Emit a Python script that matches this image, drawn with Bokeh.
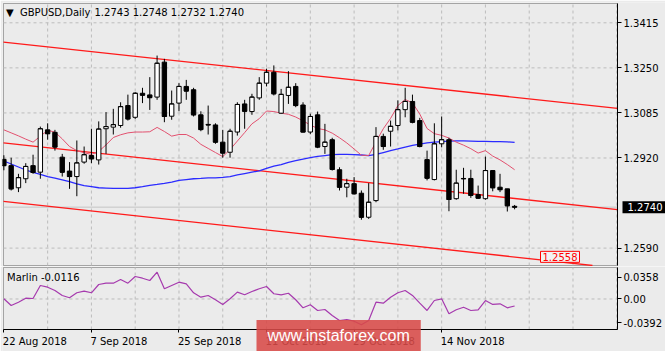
import numpy as np
from bokeh.plotting import figure
from bokeh.layouts import column
from bokeh.core.properties import value
from bokeh.models import (ColumnDataSource, Range1d, FixedTicker, Label, LinearAxis,
                          BoxAnnotation)
from bokeh.embed import file_html
from bokeh.resources import INLINE

# ---------------- data ----------------
symbol = "GBPUSD,Daily"
last_ohlc = "1.2743 1.2748 1.2732 1.2740"
last_price = 1.2740
line_label_value = 1.2558
marlin_name = "Marlin -0.0116"

opens = [1.2915, 1.2892, 1.2811, 1.2844, 1.2892, 1.2868, 1.3023, 1.3014, 1.2923, 1.2872,
         1.2852, 1.2905, 1.2929, 1.2913, 1.3027, 1.3033, 1.3039, 1.3112, 1.3069, 1.3157,
         1.3151, 1.3143, 1.3271, 1.3073, 1.3121, 1.3182, 1.3170, 1.3078, 1.3043, 1.3041,
         1.2978, 1.2941, 1.3015, 1.3118, 1.3090, 1.3140, 1.3194, 1.3234, 1.3084, 1.3149,
         1.3182, 1.3114, 1.3015, 1.3078, 1.2962, 1.2987, 1.2877, 1.2813, 1.2826, 1.2791,
         1.2703, 1.2764, 1.2999, 1.3018, 1.3039, 1.3097, 1.3127, 1.3057, 1.2914, 1.2841,
         1.2972, 1.2987, 1.2771, 1.2845, 1.2845, 1.2786, 1.2771, 1.2874, 1.2813, 1.2807,
         1.2743]
highs = [1.2930, 1.2921, 1.2862, 1.2901, 1.2932, 1.3035, 1.3047, 1.3023, 1.2935, 1.2905,
         1.2984, 1.2962, 1.3027, 1.3054, 1.3088, 1.3100, 1.3124, 1.3152, 1.3161, 1.3177,
         1.3216, 1.3295, 1.3283, 1.3167, 1.3194, 1.3206, 1.3177, 1.3091, 1.3112, 1.3047,
         1.3023, 1.3027, 1.3124, 1.3133, 1.3155, 1.3216, 1.3247, 1.3259, 1.3173, 1.3238,
         1.3194, 1.3124, 1.3082, 1.3090, 1.3045, 1.2994, 1.2886, 1.2844, 1.2850, 1.2801,
         1.2828, 1.3033, 1.3009, 1.3057, 1.3131, 1.3177, 1.3152, 1.3067, 1.2947, 1.3047,
         1.3072, 1.2994, 1.2877, 1.2884, 1.2877, 1.2819, 1.2925, 1.2874, 1.2862, 1.2807,
         1.2748]
lows = [1.2875, 1.2801, 1.2795, 1.2828, 1.2862, 1.2844, 1.2987, 1.2947, 1.2852, 1.2807,
        1.2780, 1.2899, 1.2901, 1.2896, 1.2935, 1.3006, 1.3031, 1.3057, 1.3063, 1.3121,
        1.3096, 1.3133, 1.3051, 1.3060, 1.3091, 1.3133, 1.3072, 1.3018, 1.3006, 1.2972,
        1.2921, 1.2921, 1.3002, 1.3027, 1.3078, 1.3133, 1.3182, 1.3149, 1.3082, 1.3118,
        1.3106, 1.3014, 1.3007, 1.2956, 1.2935, 1.2874, 1.2801, 1.2776, 1.2786, 1.2694,
        1.2697, 1.2758, 1.2950, 1.2962, 1.3021, 1.3069, 1.3047, 1.2959, 1.2838, 1.2838,
        1.2959, 1.2725, 1.2767, 1.2789, 1.2774, 1.2771, 1.2767, 1.2798, 1.2795, 1.2724,
        1.2732]
closes = [1.2892, 1.2807, 1.2848, 1.2889, 1.2867, 1.3027, 1.3009, 1.2960, 1.2868, 1.2852,
          1.2902, 1.2932, 1.2917, 1.3026, 1.3035, 1.3042, 1.3108, 1.3063, 1.3157, 1.3150,
          1.3141, 1.3267, 1.3072, 1.3118, 1.3182, 1.3165, 1.3078, 1.3024, 1.3041, 1.2978,
          1.2938, 1.3018, 1.3116, 1.3091, 1.3143, 1.3194, 1.3234, 1.3155, 1.3153, 1.3179,
          1.3112, 1.3015, 1.3072, 1.2960, 1.2978, 1.2878, 1.2813, 1.2826, 1.2789, 1.2703,
          1.2758, 1.2999, 1.2962, 1.3036, 1.3097, 1.3127, 1.3051, 1.2962, 1.2846, 1.2972,
          1.2987, 1.2768, 1.2828, 1.2844, 1.2783, 1.2773, 1.2874, 1.2811, 1.2804, 1.2745,
          1.2740]
ma_fast = [1.3023, 1.3012, 1.3001, 1.2989, 1.2978, 1.3000, 1.3021, 1.3015, 1.2990, 1.2962,
           1.2947, 1.2939, 1.2933, 1.2944, 1.2968, 1.2995, 1.3005, 1.3012, 1.3015, 1.3015,
           1.3016, 1.3032, 1.3017, 1.3000, 1.3006, 1.3006, 1.2993, 1.2970, 1.2955, 1.2940,
           1.2925, 1.2951, 1.2982, 1.3013, 1.3045, 1.3064, 1.3092, 1.3090, 1.3084, 1.3080,
           1.3070, 1.3056, 1.3041, 1.3028, 1.3023, 1.3011, 1.2994, 1.2975, 1.2953, 1.2930,
           1.2929, 1.2979, 1.3027, 1.3065, 1.3112, 1.3134, 1.3122, 1.3081, 1.3028, 1.3009,
           1.3003, 1.2993, 1.2978, 1.2967, 1.2954, 1.2938, 1.2947, 1.2927, 1.2913, 1.2896,
           1.2877]
ma_slow = [1.2909, 1.2898, 1.2887, 1.2876, 1.2867, 1.2860, 1.2852, 1.2846, 1.2840, 1.2833,
           1.2825, 1.2819, 1.2815, 1.2811, 1.2810, 1.2809, 1.2809, 1.2809, 1.2811, 1.2815,
           1.2820, 1.2823, 1.2827, 1.2832, 1.2838, 1.2841, 1.2844, 1.2845, 1.2847, 1.2847,
           1.2849, 1.2852, 1.2858, 1.2863, 1.2868, 1.2873, 1.2882, 1.2890, 1.2896, 1.2904,
           1.2910, 1.2916, 1.2921, 1.2926, 1.2929, 1.2932, 1.2933, 1.2933, 1.2932, 1.2931,
           1.2929, 1.2933, 1.2940, 1.2947, 1.2953, 1.2960, 1.2966, 1.2971, 1.2975, 1.2978,
           1.2980, 1.2982, 1.2983, 1.2983, 1.2982, 1.2981, 1.2981, 1.2980, 1.2980, 1.2979,
           1.2977]
marlin = [0.0003, -0.0107, -0.0053, 0.0013, 0.0008, 0.0222, 0.0194, 0.0140, 0.0058, 0.0020,
          0.0102, 0.0128, 0.0102, 0.0238, 0.0260, 0.0260, 0.0321, 0.0260, 0.0370, 0.0342,
          0.0304, 0.0441, 0.0168, 0.0222, 0.0276, 0.0250, 0.0102, 0.0030, 0.0058, -0.0013,
          -0.0090, 0.0003, 0.0112, 0.0069, 0.0123, 0.0168, 0.0206, 0.0086, 0.0069, 0.0095,
          -0.0013, -0.0145, -0.0095, -0.0189, -0.0173, -0.0271, -0.0354, -0.0337, -0.0365, -0.0424,
          -0.0354, -0.0053, -0.0069, 0.0030, 0.0102, 0.0140, 0.0058, -0.0069, -0.0189, -0.0025,
          0.0003, -0.0243, -0.0178, -0.0135, -0.0189, -0.0178, -0.0025, -0.0090, -0.0079, -0.0145,
          -0.0116]

# trend channel anchors: (bar index, price)
channel_upper = [(0, 1.3344), (84, 1.3102)]
channel_mid = [(0, 1.2975), (84, 1.2731)]
channel_low = [(0, 1.2761), (79.4, 1.2530)]

date_ticks = [0, 12, 24, 36, 48, 60]
date_labels = ["22 Aug 2018", "7 Sep 2018", "25 Sep 2018", "11 Oct 2018", "29 Oct 2018", "14 Nov 2018"]
grid_ticks = [6, 12, 18, 24, 30, 36, 42, 48, 54, 60, 66, 72, 78, 84]
price_ticks = [1.3415, 1.3250, 1.3085, 1.2920, 1.2590]
marlin_ticks = [0.0358, 0.0, -0.0392]
marlin_tick_labels = ["0.0358", "0.00", "-0.0392"]

# ---------------- styling / layout ----------------
BG = "#ebebeb"
GRID = "#bcbcbc"
FONT = "DejaVu Sans"
FS = "10px"
W = 665
# panel (visible box) extents in data units
X0, X1 = -0.05, 84.1          # panel spans pixels 3 .. 617
P0, P1 = 1.25263, 1.34857     # price panel spans pixels 3 .. 265
M0, M1 = -0.0502, 0.0518      # Marlin panel spans pixels 267 .. 329
SX = (617 - 3) / (X1 - X0)
SY = (265 - 3) / (P1 - P0)
SM = (329 - 267) / (M1 - M0)
MAIN_H, SUB_H = 266, 85


def px_x(px):
    return X0 + (px - 3) / SX


def px_main(py):
    return P1 - (py - 3) / SY


def px_sub(py):
    return M1 - (py - 267) / SM


def make_axis(ticker, loc, bounds):
    ax = LinearAxis(ticker=ticker, fixed_location=loc, bounds=bounds)
    ax.axis_line_color = "black"
    ax.major_tick_line_color = "black"
    ax.minor_tick_line_color = None
    ax.major_tick_out = 4
    ax.major_tick_in = 0
    ax.major_label_standoff = 2
    ax.major_label_text_font = FONT
    ax.major_label_text_font_size = FS
    ax.major_label_text_color = "black"
    return ax


def base_fig(height, yr):
    f = figure(width=W, height=height, x_range=xr, y_range=yr, output_backend="svg",
               toolbar_location=None, x_axis_location=None, y_axis_location=None,
               min_border_left=2, min_border_right=0, min_border_top=0, min_border_bottom=0)
    f.background_fill_color = BG
    f.border_fill_color = BG
    f.outline_line_color = None
    f.grid.visible = False
    return f


xr = Range1d(X0 - 1 / SX, X0 + (W - 3) / SX)

N = len(closes)
idx = np.arange(N)
o = np.array(opens)
c = np.array(closes)
src = ColumnDataSource(dict(
    x=idx, xl=idx - 0.3, xr=idx + 0.3,
    o=o, h=np.array(highs), l=np.array(lows), c=c,
    top=np.maximum(o, c), bot=np.minimum(o, c),
    fill=["white" if cc >= oo else "black" for oo, cc in zip(opens, closes)],
))

# ---------------- price window ----------------
p = base_fig(MAIN_H, Range1d(P1 - (MAIN_H - 3) / SY, P1 + 1 / SY))
p.min_border_top = 2
p.add_layout(BoxAnnotation(left=X0, right=X1, bottom=P0, top=P1, fill_color=None,
                           line_color="black", line_width=1, level="underlay"))
yax = make_axis(FixedTicker(ticks=price_ticks), X1, (P0, P1))
yax.major_label_overrides = {t: f"{t:.4f}" for t in price_ticks}
p.add_layout(yax, "right")

p.segment(x0=grid_ticks, y0=P0, x1=grid_ticks, y1=P1, line_color=GRID, line_dash="3 3")
p.segment(x0=X0, y0=price_ticks, x1=X1, y1=price_ticks, line_color=GRID, line_dash="3 3")
p.segment(x0=X0, y0=last_price, x1=X1, y1=last_price, line_color="#c4c4c4", line_width=1)

for (xa, ya), (xb, yb) in (channel_upper, channel_mid, channel_low):
    k = (yb - ya) / (xb - xa)
    x_end = X1
    if ya + k * (X1 - xa) < P0:
        x_end = xa + (P0 - ya) / k
    xs = np.array([X0, x_end])
    p.line(xs, ya + k * (xs - xa), line_color="#ff1a1a", line_width=1.3)

p.line(idx, ma_slow, line_color="#2b2bff", line_width=1.3)
p.line(idx, ma_fast, line_color="#e2516f", line_width=1)

p.segment(x0="x", y0="l", x1="x", y1="h", source=src, line_color="black", line_width=1)
p.vbar(x="x", width=0.6, top="top", bottom="bot", fill_color="fill",
       line_color="black", line_width=1, source=src)
p.segment(x0="xl", y0="c", x1="xr", y1="c", source=src, line_color="black", line_width=1)

yt = px_main(12)
p.add_layout(Label(x=px_x(5.5), y=yt, text="\u25bc", text_font=FONT, text_font_size="10px",
                   text_baseline="middle", text_color="black"))
p.add_layout(Label(x=px_x(19.5), y=yt, text=symbol, text_font=FONT, text_font_size=FS,
                   text_baseline="middle", text_color="black"))
p.add_layout(Label(x=px_x(94), y=yt, text=last_ohlc, text_font=FONT, text_font_size=FS,
                   text_baseline="middle", text_color="black"))
p.add_layout(Label(x=X1, y=last_price, text=f"{last_price:.4f}", text_font=FONT,
                   text_font_size=FS, text_baseline="middle", text_color="white",
                   x_offset=5, background_fill_color="black",
                   padding=dict(left=5, right=4, top=2, bottom=2)))
p.add_layout(Label(x=px_x(540), y=line_label_value, text=f"{line_label_value:.4f}",
                   text_font=FONT, text_font_size=FS, text_baseline="middle",
                   text_color="#ff0000", background_fill_color="#f2f2f2",
                   border_line_color="#ff0000", border_line_width=1,
                   padding=dict(left=2, right=2, top=2, bottom=1)))

# ---------------- Marlin sub-window ----------------
p2 = base_fig(SUB_H, Range1d(M0 - (351 - 329) / SM, M1 + 1 / SM))
p2.add_layout(BoxAnnotation(left=X0, right=X1, bottom=M0, top=M1, fill_color=None,
                            line_color="black", line_width=1, level="underlay"))
yax2 = make_axis(FixedTicker(ticks=marlin_ticks), X1, (M0, M1))
yax2.major_label_overrides = dict(zip(marlin_ticks, marlin_tick_labels))
p2.add_layout(yax2, "right")
xax = make_axis(FixedTicker(ticks=date_ticks), M0, (X0, X1))
xax.major_tick_out = 3
xax.major_label_text_color = None
p2.add_layout(xax, "below")

p2.segment(x0=grid_ticks, y0=M0, x1=grid_ticks, y1=M1, line_color=GRID, line_dash="3 3")
p2.segment(x0=X0, y0=0.0, x1=X1, y1=0.0, line_color=GRID, line_dash="3 3")
p2.line(idx, marlin, line_color="#a63aae", line_width=1.2)

p2.text(x=date_ticks, y=px_sub(340.5), text=date_labels, text_align="left",
        text_baseline="middle", text_font=value(FONT), text_font_size=value(FS),
        text_color="black", x_offset=-1)
p2.add_layout(Label(x=px_x(6.5), y=px_sub(277), text=marlin_name, text_font=FONT,
                    text_font_size=FS, text_baseline="middle", text_color="black"))
p2.add_layout(Label(x=px_x(256), y=px_sub(335), text="www.instaforex.com",
                    text_font="Liberation Sans", text_font_size="16px", text_baseline="middle",
                    text_color="white", background_fill_color="#d84a48",
                    background_fill_alpha=0.88,
                    padding=dict(left=11, right=11, top=7, bottom=7)))

layout = column(p, p2, spacing=0)
open("out.html", "w").write(file_html(layout, INLINE))
